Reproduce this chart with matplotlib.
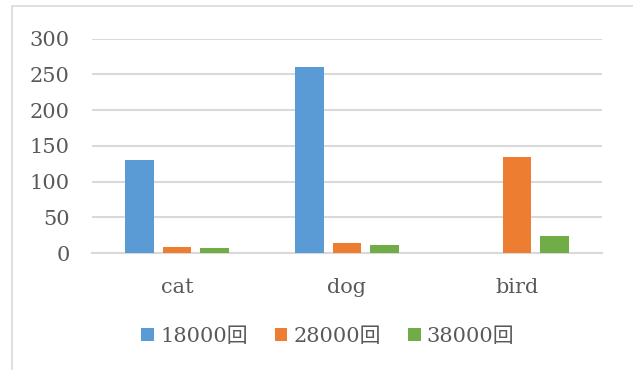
import numpy as np
import matplotlib.pyplot as plt
from matplotlib.patches import Rectangle

plt.rcParams['font.family'] = ['DejaVu Serif', 'Noto Sans CJK JP']

# data
categories = ['cat', 'dog', 'bird']
series_names = ['18000回', '28000回', '38000回']
values_18000 = [131, 261, 0]
values_28000 = [8, 14, 134]
values_38000 = [7, 12, 24]
colors = ['#5B9BD5', '#ED7D31', '#70AD47']
text_color = '#595959'
grid_color = '#D9D9D9'

fig = plt.figure(figsize=(6.33, 3.70), dpi=100)

# outer chart border
fig.patches.append(Rectangle((12 / 633, -0.01), 0.99 - 12 / 633 + 0.02, 0.985 - (-0.01),
                             transform=fig.transFigure, fill=False,
                             edgecolor='#D9D9D9', linewidth=1.2))

ax = fig.add_axes([0.1453, 0.316, 0.8057, 0.5792])

x = np.arange(len(categories))
step = 0.222
width = 0.17
all_values = [values_18000, values_28000, values_38000]
for i, (vals, name, c) in enumerate(zip(all_values, series_names, colors)):
    ax.bar(x + (i - 1) * step, vals, width, color=c, label=name, zorder=3)

ax.set_xlim(-0.5, 2.5)
ax.set_ylim(0, 300)
ax.set_yticks(range(0, 301, 50))
ax.set_xticks(x)
ax.set_xticklabels(categories)

ax.grid(axis='y', color=grid_color, linewidth=1.5, zorder=0)
for s in ['top', 'right', 'left']:
    ax.spines[s].set_visible(False)
ax.spines['bottom'].set_color(grid_color)
ax.spines['bottom'].set_linewidth(1.5)
ax.tick_params(axis='both', length=0, labelsize=15, colors=text_color)
ax.tick_params(axis='y', pad=16)
ax.tick_params(axis='x', pad=18)

leg = fig.legend(loc='center', bbox_to_anchor=(0.518, 0.09), ncol=3, frameon=False,
                 fontsize=15, handlelength=0.6, handleheight=0.6, handletextpad=0.3,
                 columnspacing=1.3)
for t in leg.get_texts():
    t.set_color(text_color)

fig.savefig('out.png', dpi=100)
